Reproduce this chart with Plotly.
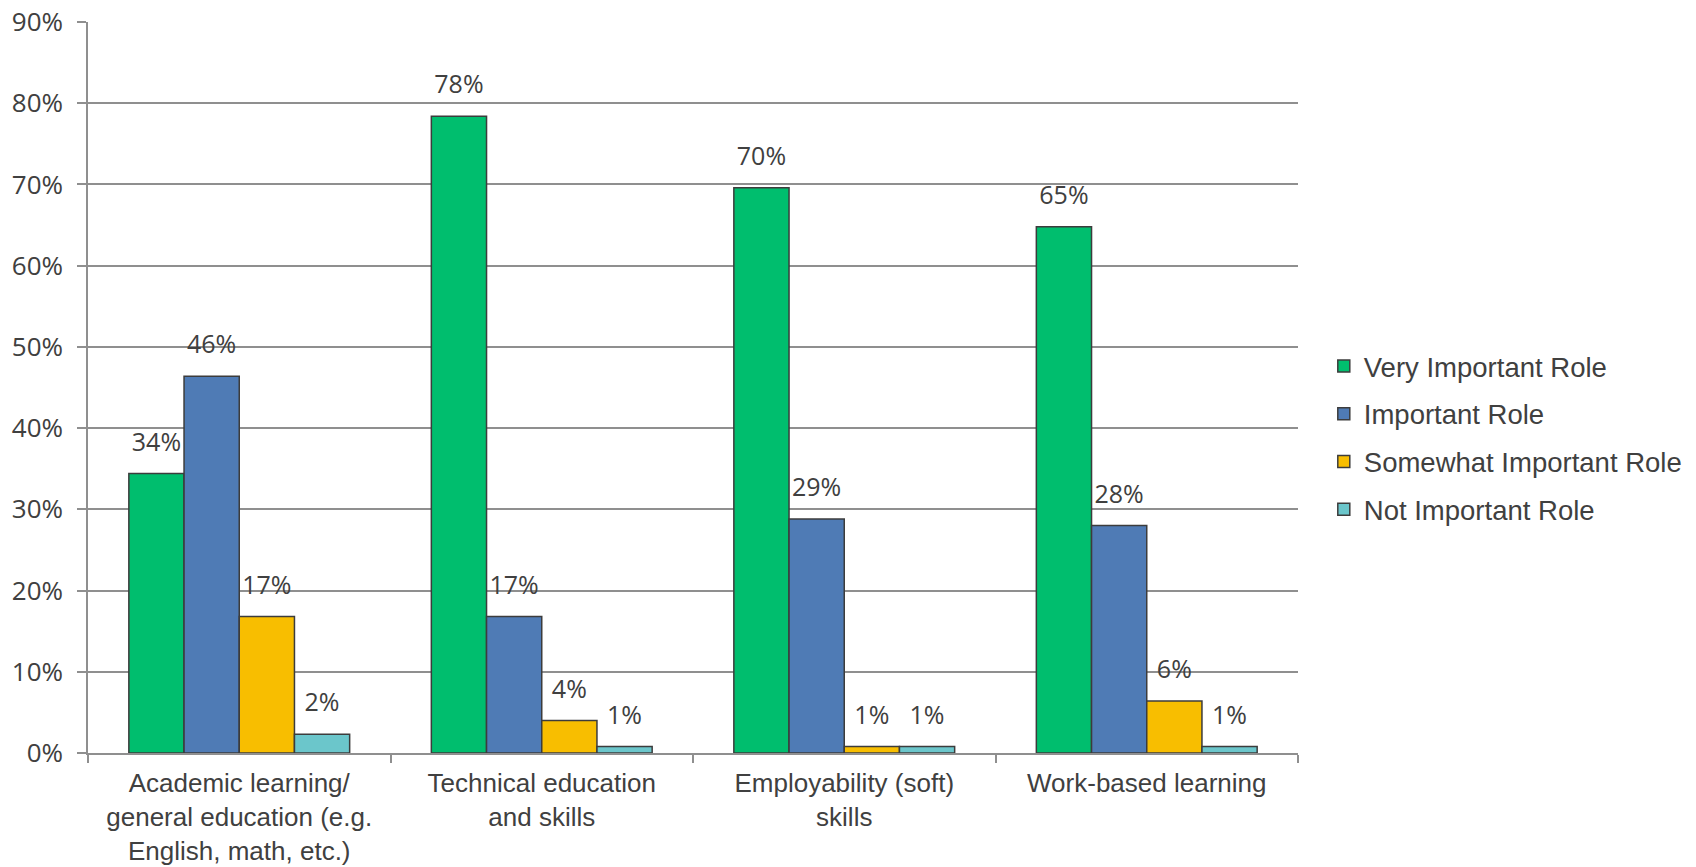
import plotly.graph_objects as go

categories = [
    "Academic learning/<br>general education (e.g.<br>English, math, etc.)",
    "Technical education<br>and skills",
    "Employability (soft)<br>skills",
    "Work-based learning",
]
series_names = ["Very Important Role", "Important Role", "Somewhat Important Role", "Not Important Role"]
very_important = [34.4, 78.4, 69.6, 64.8]
important = [46.4, 16.8, 28.8, 28.0]
somewhat_important = [16.8, 4.0, 0.8, 6.4]
not_important = [2.3, 0.8, 0.8, 0.8]
y_ticks = [0, 10, 20, 30, 40, 50, 60, 70, 80, 90]
y_tick_labels = ["0%", "10%", "20%", "30%", "40%", "50%", "60%", "70%", "80%", "90%"]

series_values = [very_important, important, somewhat_important, not_important]
colors = ["#00BE6E", "#4F7BB5", "#F8BE00", "#6BC6CB"]

LABEL_LIFT = 1.6  # visual gap (in axis units) between bar top and its label
num_font = "Open Sans, Noto Sans, DejaVu Sans, sans-serif"
txt_font = "Liberation Sans, Arial, sans-serif"

fig = go.Figure()
for i, (name, vals, col) in enumerate(zip(series_names, series_values, colors)):
    fig.add_trace(go.Bar(
        x=categories, y=vals, name=name, offsetgroup=str(i), legendgroup=str(i),
        marker=dict(color=col, line=dict(color="#3c3c3c", width=1.5)),
        hoverinfo="skip",
    ))
    fig.add_trace(go.Bar(
        x=categories, y=[LABEL_LIFT] * len(vals), base=vals, offsetgroup=str(i),
        legendgroup=str(i), showlegend=False,
        marker=dict(color="rgba(0,0,0,0)", line=dict(width=0)),
        text=[f"{round(v):d}%" for v in vals], textposition="outside",
        constraintext="none", cliponaxis=False,
        textfont=dict(family=num_font, size=25, color="#404040"),
        hoverinfo="skip",
    ))

# page body adds an 8px margin, so the figure is sized to fit the window
fig.update_layout(
    width=1688, height=859,
    margin=dict(l=80, r=398, t=14, b=114),
    paper_bgcolor="white", plot_bgcolor="white",
    barmode="group", bargap=0.27, bargroupgap=0,
    legend=dict(
        xref="container", yref="container",
        x=0.7795, xanchor="left", y=0.5, yanchor="middle",
        font=dict(family=txt_font, size=27.5, color="#404040"),
        tracegroupgap=9, bgcolor="rgba(0,0,0,0)",
    ),
    xaxis=dict(
        automargin=False,
        showline=True, linecolor="#8f8f8f", linewidth=1.5,
        ticks="outside", tickson="boundaries", ticklen=8, tickcolor="#8f8f8f", tickwidth=1.5,
        tickfont=dict(family=txt_font, size=26, color="#404040"),
        ticklabelstandoff=6,
        showgrid=False,
    ),
    yaxis=dict(
        automargin=False,
        range=[0, 90], tickvals=y_ticks, ticktext=y_tick_labels,
        showline=True, linecolor="#8f8f8f", linewidth=1.5,
        ticks="outside", ticklen=9, tickcolor="#8f8f8f", tickwidth=1.5,
        ticklabelstandoff=9, ticklabeloverflow="allow",
        showgrid=True, gridcolor="#8f8f8f", gridwidth=1.5,
        tickfont=dict(family=num_font, size=26, color="#404040"),
        zeroline=False,
    ),
)

fig.write_html("out.html")
